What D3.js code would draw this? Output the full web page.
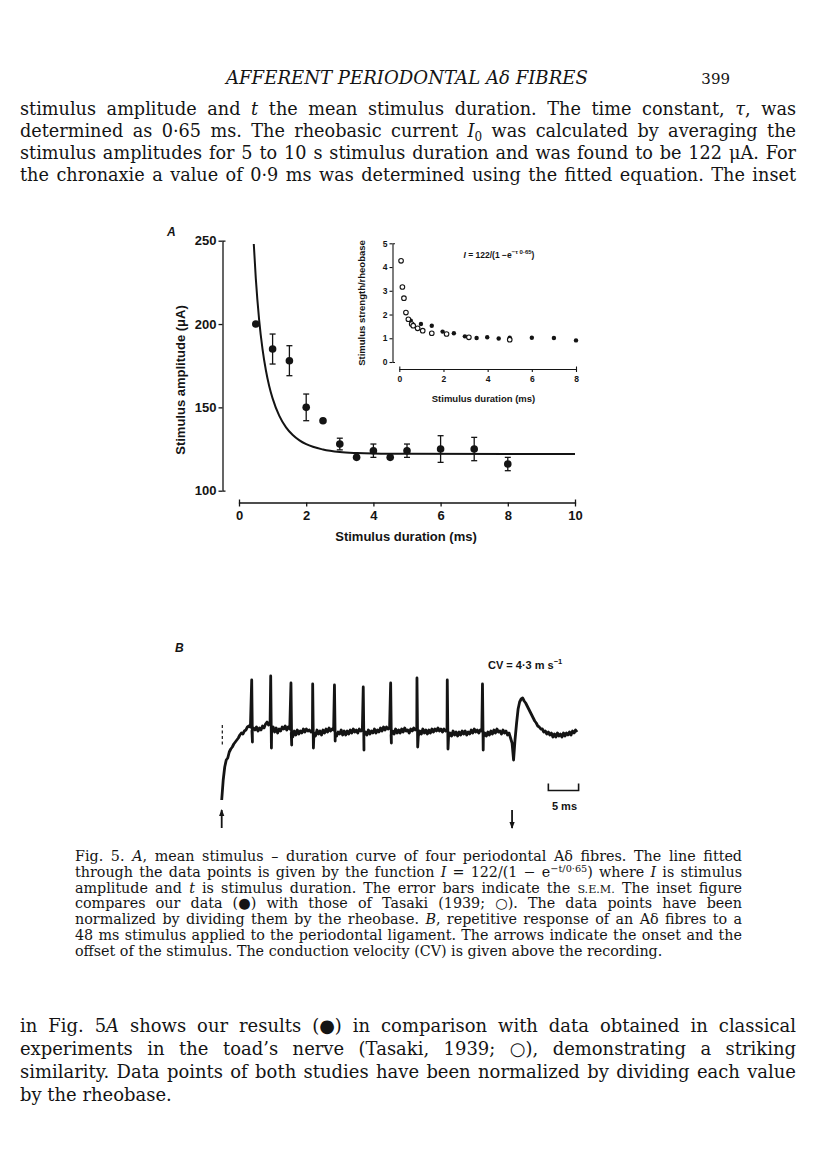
<!DOCTYPE html>
<html>
<head>
<meta charset="utf-8">
<script src="https://cdn.jsdelivr.net/npm/d3@7/dist/d3.min.js"></script>
<style>
  html, body { margin: 0; padding: 0; background: #fff; }
  svg { display: block; }
</style>
</head>
<body>
<svg id="page" width="816" height="1169"></svg>
<script>
// ---- panel A: mean stimulus-duration data (uA vs ms)
const durations    = [0.5, 1, 1.5, 2, 2.5, 3, 3.5, 4, 4.5, 5, 6, 7, 8];
const amplitudes   = [200, 185, 178, 150, 142, 128, 120, 124, 120, 124, 125, 125, 116];
const amplitudeSem = [0, 9, 9, 8, 0, 3.5, 0, 4, 0, 4, 8, 7, 4];
// fitted curve
const fitDurations  = [0.44, 0.5, 0.6, 0.7, 0.8, 0.9, 1.0, 1.2, 1.4, 1.6, 1.8, 2.0, 2.5, 3.0, 3.5, 4, 5, 10];
const fitAmplitudes = [248, 227.4, 202.4, 185, 172.3, 162.7, 155.4, 144.9, 138, 133.4, 130.2, 127.9, 124.7, 123.2, 122.6, 122.3, 122.1, 122];
const ampTicks = [100, 150, 200, 250];
const durTicks = [0, 2, 4, 6, 8, 10];

// ---- inset: normalized (strength / rheobase)
const ourDur      = [0.52, 0.98, 1.47, 1.96, 2.47, 2.97, 3.5, 3.98, 4.5, 5, 6, 7, 8];
const ourRatio    = [1.74, 1.60, 1.53, 1.28, 1.21, 1.08, 1.01, 1.04, 0.99, 1.02, 1.02, 1.01, 0.91];
const tasakiDur   = [0.08, 0.14, 0.21, 0.30, 0.41, 0.56, 0.63, 0.83, 1.06, 1.47, 2.14, 3.15, 5.0];
const tasakiRatio = [4.26, 3.16, 2.69, 2.08, 1.80, 1.60, 1.53, 1.42, 1.32, 1.21, 1.18, 1.04, 0.94];
const ratioTicks = [0, 1, 2, 3, 4, 5];
const insetDurTicks = [0, 2, 4, 6, 8];

// ---- panel B: recording, sampled every 0.25 ms from stimulus onset (arbitrary units, baseline ~0)
const traceDt = 0.25;
const traceValues = [
  -65, -45, -32, -25, -23, -17, -14, -12, -9, -7, -5, -3, 0, 2, 1, 4, 5, 8, 9, 8,
  4, 7, 5, 8, 4, 7, 5, 9, 7, 11, 13, 10, 12, 5, 8, 3, 7, 2, 6, 4,
  8, 6, 9, 5, 8, 6, 2, -2, 4, 0, 5, 1, 4, 2, 6, 3, 6, 4, 5, 3,
  4, 2, -1, 5, 1, 4, 0, 5, 2, 6, 3, 7, 4, 6, 5, 2, -1, 3, 1, 5,
  0, 4, 0, 4, 1, 5, 2, 6, 3, 5, 2, 6, 4, 5, 0, 3, 0, 5, 1, 4,
  2, 6, 2, 5, 3, 7, 4, 8, 5, 8, 6, 7, 0, 4, 1, 6, 2, 5, 2, 6,
  3, 7, 4, 5, 2, 6, 4, 7, 5, 7, -1, 4, 1, 6, 2, 5, 1, 5, 2, 6,
  3, 6, 4, 7, 4, 6, 3, 6, 4, 5, -2, 2, -1, 4, 0, 3, -1, 3, 0, 4,
  1, 4, 0, 3, 1, 5, 2, 6, 3, 5, 2, 5, 4, -2, 2, -1, 3, 0, 4, 1,
  5, 2, 6, 3, 4, 1, 5, 2, 4, 0, 2, -3, -8, -25, -4, 12, 26, 33, 36, 37,
  34, 32, 29, 26, 23, 20, 17, 14, 12, 9, 8, 6, 6, 3, 4, 1, 3, 0, 2, -2,
  1, -2, 2, -1, 1, -2, 2, -1, 2, 0, 3, 0, 4, 2, 5, 3
];
const spikeTimes   = [4.96, 8.10, 11.45, 15.04, 18.64, 23.40, 27.93, 32.28, 37.29, 43.11];
const spikePeaks   = [55, 59, 52, 51, 50, 48, 52, 57, 55, 51];
const spikeTroughs = [-7, -13, -10, -13, -6, -15, -8, -12, -14, -15];
const stimOnset = 0, stimOffset = 48;
const artifact = [10, -12];
const scaleBarMs = [54, 59];

const svg = d3.select("#page");
const ink = "#141414";
const sans = "'Liberation Sans', Arial, Helvetica, sans-serif";
const serif = "'DejaVu Serif', 'Liberation Serif', serif";

function styleAxis(g, size, width) {
  g.attr("font-family", sans);
  g.selectAll("path, line").attr("stroke", ink).attr("stroke-width", width);
  g.selectAll("text").attr("fill", ink).attr("font-size", size).attr("font-weight", "bold");
}

// ================= panel A =================
const xA = d3.scaleLinear().domain([0, 10]).range([239, 575]);
const yA = d3.scaleLinear().domain([100, 250]).range([490.7, 240.7]);

svg.append("g").attr("transform", "translate(222.5,0)")
  .call(d3.axisLeft(yA).tickValues(ampTicks).tickSize(4).tickSizeOuter(-3).tickPadding(2))
  .call(g => styleAxis(g, 13, 1.3));
svg.append("g").attr("transform", "translate(0,502.5)")
  .call(d3.axisBottom(xA).tickValues(durTicks).tickSize(4).tickSizeOuter(-3).tickPadding(4))
  .call(g => styleAxis(g, 13, 1.3));

svg.append("text").attr("x", 406).attr("y", 541).attr("text-anchor", "middle")
  .attr("font-family", sans).attr("font-weight", "bold").attr("font-size", 13).attr("fill", ink)
  .text("Stimulus duration (ms)");
svg.append("text").attr("transform", "translate(184.5,380) rotate(-90)").attr("text-anchor", "middle")
  .attr("font-family", sans).attr("font-weight", "bold").attr("font-size", 13).attr("fill", ink)
  .text("Stimulus amplitude (\u03bcA)");
svg.append("text").attr("x", 167).attr("y", 236)
  .attr("font-family", sans).attr("font-weight", "bold").attr("font-style", "italic").attr("font-size", 12).attr("fill", ink)
  .text("A");

svg.append("path")
  .datum(fitAmplitudes)
  .attr("d", d3.line().x((d, i) => xA(fitDurations[i])).y(d => yA(d)).curve(d3.curveMonotoneX))
  .attr("fill", "none").attr("stroke", ink).attr("stroke-width", 2);

const errG = svg.append("g").attr("stroke", ink).attr("stroke-width", 1.3);
durations.forEach((t, i) => {
  if (!amplitudeSem[i]) return;
  const cx = xA(t), y1 = yA(amplitudes[i] + amplitudeSem[i]), y2 = yA(amplitudes[i] - amplitudeSem[i]);
  errG.append("line").attr("x1", cx).attr("x2", cx).attr("y1", y1).attr("y2", y2);
  errG.append("line").attr("x1", cx - 3).attr("x2", cx + 3).attr("y1", y1).attr("y2", y1);
  errG.append("line").attr("x1", cx - 3).attr("x2", cx + 3).attr("y1", y2).attr("y2", y2);
});
svg.append("g").selectAll("circle").data(amplitudes).join("circle")
  .attr("cx", (d, i) => xA(durations[i])).attr("cy", d => yA(d)).attr("r", 3.8).attr("fill", ink);

// ================= inset =================
const xI = d3.scaleLinear().domain([0, 8]).range([399.3, 576]);
const yI = d3.scaleLinear().domain([0, 5]).range([362, 243.3]);

svg.append("g").attr("transform", "translate(392.5,0)")
  .call(d3.axisLeft(yI).tickValues(ratioTicks).tickFormat(d3.format("d")).tickSize(3).tickSizeOuter(-2.5).tickPadding(2))
  .call(g => styleAxis(g, 8.5, 1.1));
svg.append("g").attr("transform", "translate(0,369)")
  .call(d3.axisBottom(xI).tickValues(insetDurTicks).tickFormat(d3.format("d")).tickSize(3).tickSizeOuter(-2.5).tickPadding(4))
  .call(g => styleAxis(g, 8.5, 1.1));

svg.append("text").attr("x", 483.5).attr("y", 401.5).attr("text-anchor", "middle")
  .attr("font-family", sans).attr("font-weight", "bold").attr("font-size", 9.5).attr("fill", ink)
  .text("Stimulus duration (ms)");
svg.append("text").attr("transform", "translate(365,303) rotate(-90)").attr("text-anchor", "middle")
  .attr("font-family", sans).attr("font-weight", "bold").attr("font-size", 9.5).attr("fill", ink)
  .text("Stimulus strength/rheobase");

const formula = svg.append("text").attr("x", 463.5).attr("y", 257.5)
  .attr("font-family", sans).attr("font-weight", "bold").attr("font-size", 8.5).attr("fill", ink);
formula.append("tspan").attr("font-style", "italic").text("I");
formula.append("tspan").text(" = 122/(1 \u2212e");
formula.append("tspan").attr("dy", -4).attr("font-size", 6).text("\u2212\u03c4 0\u00b765");
formula.append("tspan").attr("dy", 4).text(")");

svg.append("g").selectAll("circle").data(ourRatio).join("circle")
  .attr("cx", (d, i) => xI(ourDur[i])).attr("cy", d => yI(d)).attr("r", 2.2).attr("fill", ink);
svg.append("g").selectAll("circle").data(tasakiRatio).join("circle")
  .attr("cx", (d, i) => xI(tasakiDur[i])).attr("cy", d => yI(d)).attr("r", 2.3)
  .attr("fill", "#fff").attr("stroke", ink).attr("stroke-width", 1.1);

// ================= panel B =================
const xB = d3.scaleLinear().domain([0, 59]).range([221.7, 578.6]);
const yB = d3.scaleLinear().domain([-70, 65]).range([805, 670]);

const tracePts = [];
traceValues.forEach((v, i) => {
  const t = i * traceDt;
  tracePts.push([t, v]);
  spikeTimes.forEach((s, k) => {
    if (s >= t && s < t + traceDt) tracePts.push([s, spikePeaks[k]], [s + 0.12, spikeTroughs[k]]);
  });
});

svg.append("path").datum(tracePts)
  .attr("d", d3.line().x(d => xB(d[0])).y(d => yB(d[1])))
  .attr("fill", "none").attr("stroke", ink).attr("stroke-width", 2.8)
  .attr("stroke-linejoin", "round");

svg.append("line").attr("x1", xB(stimOnset) + 0.6).attr("x2", xB(stimOnset) + 0.6)
  .attr("y1", yB(artifact[0])).attr("y2", yB(artifact[1]))
  .attr("stroke", ink).attr("stroke-width", 1.2).attr("stroke-dasharray", "3,2.5");

svg.append("text").attr("x", 175).attr("y", 652)
  .attr("font-family", sans).attr("font-weight", "bold").attr("font-style", "italic").attr("font-size", 12).attr("fill", ink)
  .text("B");

const cv = svg.append("text").attr("x", 488).attr("y", 668.5)
  .attr("font-family", sans).attr("font-weight", "bold").attr("font-size", 11).attr("fill", ink);
cv.append("tspan").text("CV = 4\u00b73 m s");
cv.append("tspan").attr("dy", -4.5).attr("font-size", 7.5).text("\u22121");

// scale bar
const barY = 790.5;
svg.append("path")
  .attr("d", `M${xB(scaleBarMs[0])},${barY - 7}V${barY}H${xB(scaleBarMs[1])}V${barY - 7}`)
  .attr("fill", "none").attr("stroke", ink).attr("stroke-width", 1.6);
svg.append("text").attr("x", (xB(scaleBarMs[0]) + xB(scaleBarMs[1])) / 2 + 1).attr("y", 810)
  .attr("text-anchor", "middle").attr("font-family", sans).attr("font-weight", "bold").attr("font-size", 11).attr("fill", ink)
  .text("5 ms");

// stimulus arrows
function arrow(x, up) {
  const top = 810, bot = 828;
  svg.append("line").attr("x1", x).attr("x2", x).attr("y1", top).attr("y2", bot)
    .attr("stroke", ink).attr("stroke-width", 1.8);
  const tip = up ? top - 1 : bot + 1, base = up ? top + 6 : bot - 6;
  svg.append("path").attr("d", `M${x},${tip}L${x - 2.6},${base}L${x + 2.6},${base}Z`).attr("fill", ink);
}
arrow(xB(stimOnset), true);
arrow(xB(stimOffset), false);

// ================= page text =================
function writeBlock(lines, x, width, y0, step, baseSize, fill, lastJustified) {
  const build = size => {
    const g = svg.append("g").attr("font-family", serif).attr("fill", ink);
    const nodes = lines.map((segs, li) => {
      const t = g.append("text").attr("x", x).attr("y", y0 + li * step).attr("font-size", size);
      let shift = 0;
      segs.forEach(s => {
        const seg = typeof s === "string" ? { t: s } : s;
        const want = seg.sup ? -0.36 * size : seg.sub ? 0.2 * size : 0;
        const sp = t.append("tspan").text(seg.t);
        if (want !== shift) { sp.attr("dy", want - shift); shift = want; }
        if (seg.i) sp.attr("font-style", "italic");
        if (seg.sup || seg.sub) sp.attr("font-size", size * 0.68);
        if (seg.sc) sp.attr("font-size", size * 0.78);
      });
      return t;
    });
    return { g, nodes };
  };
  let b = build(baseSize);
  const maxW = d3.max(b.nodes, n => n.node().getComputedTextLength());
  const size = baseSize * Math.min(1.2, (width * fill) / maxW);
  b.g.remove();
  b = build(size);
  b.nodes.forEach((n, i) => {
    if (i === lines.length - 1 && !lastJustified) return;
    const len = n.node().getComputedTextLength();
    const spaces = (n.text().match(/ /g) || []).length;
    if (spaces) n.attr("word-spacing", (width - len) / spaces);
  });
}

// running head
const head = svg.append("text").attr("x", 226).attr("y", 84)
  .attr("font-family", serif).attr("font-style", "italic").attr("font-size", 15).attr("fill", ink)
  .text("AFFERENT PERIODONTAL A\u03b4 FIBRES");
head.attr("font-size", 15 * 362 / head.node().getComputedTextLength());
svg.append("text").attr("x", 730).attr("y", 84).attr("text-anchor", "end")
  .attr("font-family", serif).attr("font-size", 15).attr("fill", ink).text("399");

writeBlock([
  ["stimulus amplitude and ", { t: "t", i: true }, " the mean stimulus duration. The time constant, ", { t: "\u03c4", i: true }, ", was"],
  ["determined as 0\u00b765 ms. The rheobasic current ", { t: "I", i: true }, { t: "0", sub: true }, " was calculated by averaging the"],
  ["stimulus amplitudes for 5 to 10 s stimulus duration and was found to be 122 \u03bcA. For"],
  ["the chronaxie a value of 0\u00b79 ms was determined using the fitted equation. The inset"]
], 20, 776, 115, 22, 16, 0.975, true);

writeBlock([
  ["Fig. 5. ", { t: "A", i: true }, ", mean stimulus \u2013 duration curve of four periodontal A\u03b4 fibres. The line fitted"],
  ["through the data points is given by the function ", { t: "I", i: true }, " = 122/(1 \u2212 e", { t: "\u2212t/0\u00b765", sup: true }, ") where ", { t: "I", i: true }, " is stimulus"],
  ["amplitude and ", { t: "t", i: true }, " is stimulus duration. The error bars indicate the ", { t: "S.E.M.", sc: true }, " The inset figure"],
  ["compares our data (\u25cf) with those of Tasaki (1939; \u25cb). The data points have been"],
  ["normalized by dividing them by the rheobase. ", { t: "B", i: true }, ", repetitive response of an A\u03b4 fibres to a"],
  ["48 ms stimulus applied to the periodontal ligament. The arrows indicate the onset and the"],
  ["offset of the stimulus. The conduction velocity (CV) is given above the recording."]
], 75, 667, 861, 15.8, 12.5, 0.985, false);

writeBlock([
  ["in Fig. 5", { t: "A", i: true }, " shows our results (\u25cf) in comparison with data obtained in classical"],
  ["experiments in the toad\u2019s nerve (Tasaki, 1939; \u25cb), demonstrating a striking"],
  ["similarity. Data points of both studies have been normalized by dividing each value"],
  ["by the rheobase."]
], 20, 776, 1032, 23, 16, 0.975, false);
</script>
</body>
</html>
